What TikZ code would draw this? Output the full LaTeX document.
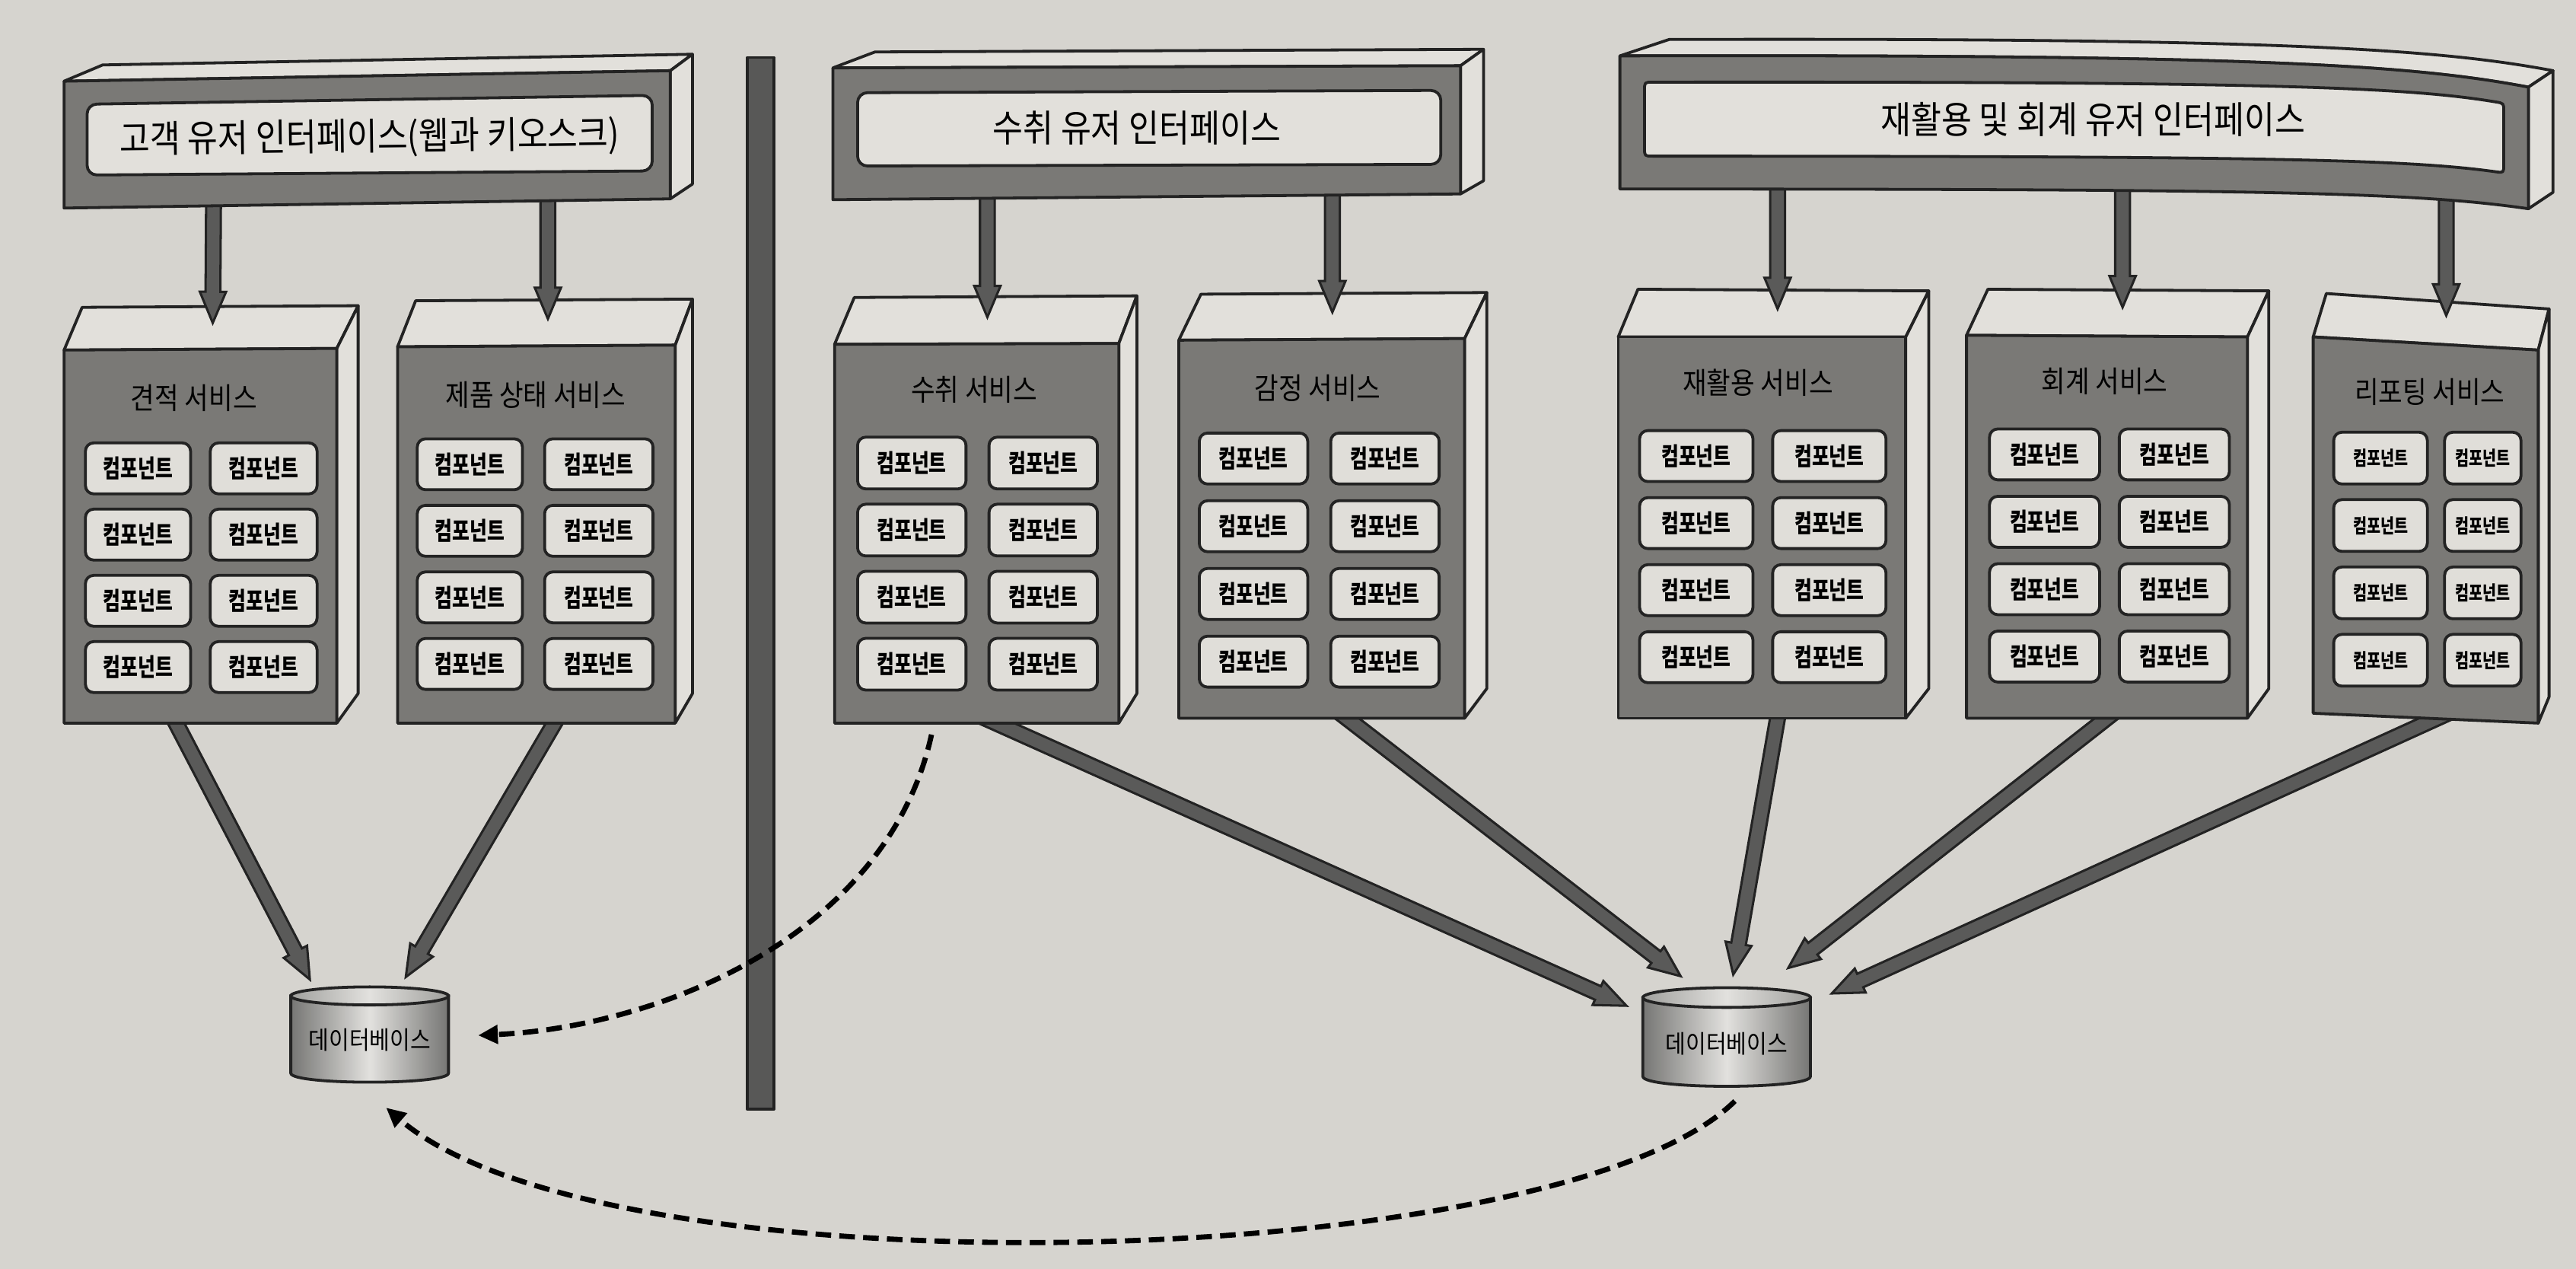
\documentclass[tikz,border=0pt]{standalone}
\usepackage{fontspec}
\usetikzlibrary{calc,arrows.meta}
\newfontfamily\krfont[FakeStretch=0.88]{Noto Sans CJK KR}
\newfontfamily\krcompfont[FakeStretch=0.76]{Noto Sans CJK KR}

\definecolor{pagebg}{RGB}{214,212,207}
\definecolor{facedark}{RGB}{122,121,118}
\definecolor{facelight}{RGB}{226,224,219}
\definecolor{complight}{RGB}{224,222,217}
\definecolor{inkline}{RGB}{35,35,35}
\definecolor{arrowgray}{RGB}{90,90,89}
\definecolor{divgray}{RGB}{88,88,87}
\definecolor{dbdark}{RGB}{118,118,116}
\definecolor{dbmid}{RGB}{160,160,157}
\definecolor{dblight}{RGB}{226,225,222}

\newcommand\ux{0.02cm}
\newcommand\bkHeadLen{0.38cm}
\newcommand\bkShaft{0.09cm}
\newcommand\bkHead{0.16cm}

\tikzset{
  ink/.style={draw=inkline, line width=1pt, line join=round},
  frontface/.style={ink, fill=facedark},
  lightface/.style={ink, fill=facelight},
  comp/.style={ink, fill=complight, rounded corners=0.1cm, inner sep=0pt,
    font=\krcompfont\bfseries\fontsize{8.6pt}{9pt}\selectfont},
  compsmall/.style={comp, font=\krcompfont\bfseries\fontsize{6.8pt}{7pt}\selectfont},
  svctitle/.style={inner sep=0pt, font=\krfont\fontsize{10.3pt}{11pt}\selectfont},
  uititle/.style={inner sep=0pt, font=\krfont\fontsize{13pt}{14pt}\selectfont},
  dbtext/.style={inner sep=0pt, font=\krfont\fontsize{8.7pt}{9pt}\selectfont},
  blockarrow/.style={draw=inkline, line width=0.8pt, fill=arrowgray, line join=miter},
  dashlink/.style={draw=black, line width=1.8pt, dash pattern=on 0.19cm off 0.1cm,
    -{Triangle[length=0.24cm,width=0.22cm]}},
}

% thick outlined arrow from #1 to #2 (tip at #2)
\newcommand\blockarrow[2]{%
  \path ($(#2)!\bkHeadLen!(#1)$) coordinate (bk-h);
  \filldraw[blockarrow]
    ($(#1)!\bkShaft!90:(#2)$) -- ($(bk-h)!\bkShaft!90:(#2)$) --
    ($(bk-h)!\bkHead!90:(#2)$) -- (#2) --
    ($(bk-h)!\bkHead!-90:(#2)$) -- ($(bk-h)!\bkShaft!-90:(#2)$) --
    ($(#1)!\bkShaft!-90:(#2)$) -- cycle;
}

% service block: front TL, TR, BR, BL, back TL, back TR, back BR
\newcommand\cube[7]{%
  \filldraw[lightface] #1 -- #5 -- #6 -- #2 -- cycle;
  \filldraw[lightface] #2 -- #6 -- #7 -- #3 -- cycle;
  \filldraw[frontface] #1 -- #2 -- #3 -- #4 -- cycle;
}

% 2x4 grid of components: prefix, style, col-a left, col-a width,
% col-b left, col-b width, first row top, row pitch, height
\newcommand\compgrid[9]{%
  \foreach \r in {1,...,4}{
    \node[#2, minimum width=#4*\ux, minimum height=#9*\ux]
      (#1a\r) at ({#3+#4/2},{#7+(\r-1)*#8+#9/2}) {컴포넌트};
    \node[#2, minimum width=#6*\ux, minimum height=#9*\ux]
      (#1b\r) at ({#5+#6/2},{#7+(\r-1)*#8+#9/2}) {컴포넌트};
  }
}

% database cylinder: centre x, half width, top ellipse y, bottom y, ellipse y radius
\newcommand\dbcyl[5]{%
  \path[draw=inkline, line width=1pt, shade, left color=dbdark, right color=dbdark, middle color=dblight]
    ({#1-#2},#3) -- ({#1-#2},#4)
    .. controls ({#1-#2},{#4+1.333*#5}) and ({#1+#2},{#4+1.333*#5}) .. ({#1+#2},#4)
    -- ({#1+#2},#3) -- cycle;
  \path[draw=inkline, line width=1pt, shade, left color=dbmid, right color=dbmid, middle color=dblight]
    (#1,#3) ellipse [x radius=#2, y radius=#5];
}

\begin{document}
\begin{tikzpicture}[x=0.02cm, y=-0.02cm]
\fill[pagebg] (0,0) rectangle (1568,772);
\useasboundingbox (0,0) rectangle (1568,772);

% ---------- arrow end points ----------
\coordinate (s1-out) at (104,434);   \coordinate (db1-in1) at (188.6,596);
\coordinate (s2-out) at (341,434);   \coordinate (db1-in2) at (247,594.5);
\coordinate (s3-out) at (593,434);   \coordinate (db2-in1) at (990,612);
\coordinate (s4-out) at (812,431);   \coordinate (db2-in2) at (1023,594);
\coordinate (s5-out) at (1083,431);  \coordinate (db2-in3) at (1055,593);
\coordinate (s6-out) at (1290,431);  \coordinate (db2-in4) at (1088.5,589);
\coordinate (s7-out) at (1490,434);  \coordinate (db2-in5) at (1115,604.5);

% ---------- service to database arrows ----------
\blockarrow{s1-out}{db1-in1}
\blockarrow{s2-out}{db1-in2}
\blockarrow{s3-out}{db2-in1}
\blockarrow{s4-out}{db2-in2}
\blockarrow{s5-out}{db2-in3}
\blockarrow{s6-out}{db2-in4}
\blockarrow{s7-out}{db2-in5}

% ---------- service blocks ----------
\cube{(39,213)}{(205,212)}{(205,440)}{(39,440)}{(50,187)}{(218,186)}{(218,422)}
\cube{(242,211)}{(411,210)}{(411,440)}{(242,440)}{(253,183)}{(421.5,182)}{(421.5,422)}
\cube{(508,209.5)}{(681,209)}{(681,440)}{(508,440)}{(520,181)}{(692,180)}{(692,422)}
\cube{(717.5,207)}{(891.5,206)}{(891.5,437)}{(717.5,437)}{(731,179)}{(905,178)}{(905,419)}
\cube{(985,205)}{(1160,205)}{(1160,437)}{(985,437)}{(997,176)}{(1174,177)}{(1174,419)}
\cube{(1197,204)}{(1368,205)}{(1368,437)}{(1197,437)}{(1210,176)}{(1381,177)}{(1381,419)}
\cube{(1408,205)}{(1545,213)}{(1545,440)}{(1408,434)}{(1416,178.6)}{(1551.6,188)}{(1551.6,424)}

\node[svctitle] (s1) at (118,242)   {견적 서비스};
\node[svctitle] (s2) at (326,240.5) {제품 상태 서비스};
\node[svctitle] (s3) at (593,237)   {수취 서비스};
\node[svctitle] (s4) at (802,236)   {감정 서비스};
\node[svctitle] (s5) at (1070,233)  {재활용 서비스};
\node[svctitle] (s6) at (1281,232)  {회계 서비스};
\node[svctitle] (s7) at (1479,238.5){리포팅 서비스};

\compgrid{c1}{comp}{52}{64}{128}{65}{269.5}{40.3}{31}
\compgrid{c2}{comp}{254}{64}{331.5}{66}{267}{40.5}{31}
\compgrid{c3}{comp}{522}{66}{602}{66}{266}{40.8}{31.5}
\compgrid{c4}{comp}{730}{66}{810}{66}{263.5}{41.2}{31}
\compgrid{c5}{comp}{998}{69}{1079}{69}{262}{40.8}{31}
\compgrid{c6}{comp}{1211}{67}{1290}{67}{261}{41}{31}
\compgrid{c7}{compsmall}{1420.5}{57}{1488}{46.5}{263}{41}{31.5}

% ---------- interface to service arrows ----------
\coordinate (u1-o1) at (130,118);   \coordinate (s1-in) at (129.5,196.5);
\coordinate (u1-o2) at (333.5,114); \coordinate (s2-in) at (333.5,194);
\coordinate (u2-o1) at (601,114);   \coordinate (s3-in) at (601,193);
\coordinate (u2-o2) at (811,112);   \coordinate (s4-in) at (811,190);
\coordinate (u3-o1) at (1082,108);  \coordinate (s5-in) at (1082,188);
\coordinate (u3-o2) at (1292,108);  \coordinate (s6-in) at (1292,187);
\coordinate (u3-o3) at (1489,118);  \coordinate (s7-in) at (1489,192);
\blockarrow{u1-o1}{s1-in}
\blockarrow{u1-o2}{s2-in}
\blockarrow{u2-o1}{s3-in}
\blockarrow{u2-o2}{s4-in}
\blockarrow{u3-o1}{s5-in}
\blockarrow{u3-o2}{s6-in}
\blockarrow{u3-o3}{s7-in}

% ---------- customer interface bar ----------
\filldraw[lightface] (39,49.4) -- (62.5,39.5) -- (421.5,33) -- (408,43) -- cycle;
\filldraw[lightface] (408,43) -- (421.5,33) -- (421.5,112) -- (408,121) -- cycle;
\filldraw[frontface] (39,49.4) -- (408,43) -- (408,121) -- (39,126.6) -- cycle;
\filldraw[lightface, rounded corners=0.12cm] (53,63.4) -- (397,58) -- (397,104) -- (53,106.5) -- cycle;
\node[uititle, rotate=0.7] (ui1) at (225,84) {고객 유저 인터페이스(웹과 키오스크)};

% ---------- receiving interface bar ----------
\filldraw[lightface] (507,41.3) -- (532.6,31.6) -- (903,30) -- (889,40) -- cycle;
\filldraw[lightface] (889,40) -- (903,30) -- (903,110) -- (889,118) -- cycle;
\filldraw[frontface] (507,41.3) -- (889,40) -- (889,118) -- (507,121.5) -- cycle;
\filldraw[lightface, rounded corners=0.12cm] (522,56.4) -- (877,55) -- (877,100) -- (522,101) -- cycle;
\node[uititle] (ui2) at (692,78) {수취 유저 인터페이스};

% ---------- recycling and accounting interface bar (bent) ----------
\filldraw[lightface] (986,34) -- (1016,24) .. controls (1390,23) and (1485,30) .. (1554,43)
  -- (1539,53) .. controls (1470,40) and (1380,33) .. (986,34) -- cycle;
\filldraw[lightface] (1539,53) -- (1554,43) -- (1554,117) -- (1539,127) -- cycle;
\filldraw[frontface] (986,34) .. controls (1380,33) and (1470,40) .. (1539,53)
  -- (1539,127) .. controls (1470,117) and (1380,115) .. (986,115) -- cycle;
\filldraw[lightface] (1006,50) .. controls (1380,49.5) and (1465,53) .. (1519,62)
  .. controls (1524,62.8) .. (1524,67.5) -- (1524,100)
  .. controls (1524,105.2) .. (1519,104.5)
  .. controls (1465,97) and (1380,95) .. (1006,95)
  .. controls (1001,95) .. (1001,90) -- (1001,55)
  .. controls (1001,50) .. (1006,50) -- cycle;
\node[uititle] (ui3) at (1274,72.6) {재활용 및 회계 유저 인터페이스};

% ---------- divider ----------
\filldraw[ink, fill=divgray] (455,35) rectangle (471,675);

% ---------- databases ----------
\dbcyl{225}{48}{606}{653}{5.5}
\node[dbtext, minimum width=96*\ux, minimum height=58*\ux] (db1) at (225,633) {데이터베이스};
\dbcyl{1051}{51}{607}{655}{6}
\node[dbtext, minimum width=102*\ux, minimum height=60*\ux] (db2) at (1051,635) {데이터베이스};

% ---------- data replication links ----------
\coordinate (s3-copy) at (567,447);
\coordinate (db1-east) at (291,630);
\coordinate (db2-south) at (1056,670);
\coordinate (db1-south) at (235,674);
\draw[dashlink] (s3-copy) .. controls (540,570) and (400,625) .. (db1-east);
\draw[dashlink] (db2-south) .. controls (950,775) and (370,790) .. (db1-south);
\end{tikzpicture}
\end{document}
